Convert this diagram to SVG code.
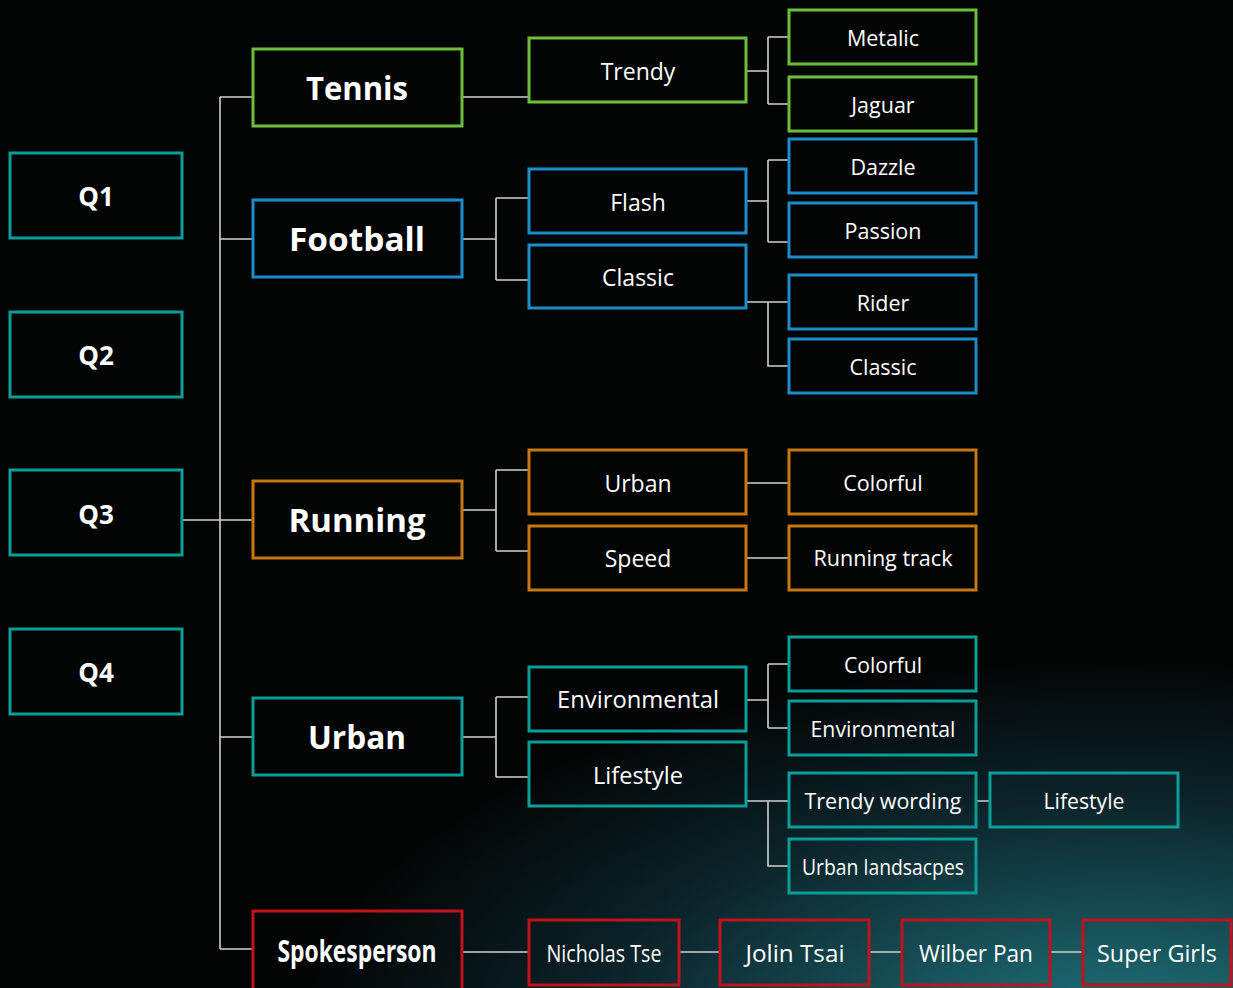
<svg xmlns="http://www.w3.org/2000/svg" width="1233" height="988" viewBox="0 0 1233 988">
<defs>
<radialGradient id="bg" cx="0" cy="0" r="1" gradientUnits="userSpaceOnUse" gradientTransform="translate(1120 1040) scale(820 380)">
<stop offset="0" stop-color="#1f7880"/>
<stop offset="0.3" stop-color="#175058"/>
<stop offset="0.65" stop-color="#0b2228"/>
<stop offset="1" stop-color="#030505"/>
</radialGradient>
<style>
.b{fill:none;stroke-width:3}
.g{stroke:#6cbf3c}.bl{stroke:#1e8bcb}.o{stroke:#c87712}.t{stroke:#0b9e98}.r{stroke:#c0131d}
text{fill:#ffffff;font-family:"Open Sans","Noto Sans","DejaVu Sans",sans-serif;text-anchor:middle}
.q{font-size:26px;font-weight:700}
.l1{font-size:32px;font-weight:700}
.l2{font-size:23px}
.l3{font-size:21.5px}
.c{font-size:23px}
.cb{font-size:30px;font-weight:700}
#conn path{fill:none;stroke:#cfcfcf;stroke-width:1.6}
</style>
</defs>
<rect width="1233" height="988" fill="#030505"/>
<rect width="1233" height="988" fill="url(#bg)"/>

<g id="conn">
<path d="M220 97V949M220 97H253M220 239H253M182 520H253M220 737H253M220 949H253"/>
<path d="M462 97H529M746 71H768M768 37V104M768 37H789M768 104H789"/>
<path d="M462 239H496M496 198V280M496 198H529M496 280H529M746 201H768M768 160V242M768 160H789M768 242H789M746 302H789M768 302V366H789"/>
<path d="M462 510H496M496 470V551M496 470H529M496 551H529M746 483H789M746 558H789"/>
<path d="M462 737H496M496 697V777M496 697H529M496 777H529M746 700H768M768 664V728M768 664H789M768 728H789M746 801H789M768 801V866H789M976 801H990"/>
<path d="M462 952H529M679 952H720M869 952H902M1050 952H1083"/>
</g>

<g id="q1"><rect class="b t" x="10" y="153" width="172" height="85"/><text class="q" x="96" y="206">Q1</text></g>
<g id="q2"><rect class="b t" x="10" y="312" width="172" height="85"/><text class="q" x="96" y="365">Q2</text></g>
<g id="q3"><rect class="b t" x="10" y="470" width="172" height="85"/><text class="q" x="96" y="524">Q3</text></g>
<g id="q4"><rect class="b t" x="10" y="629" width="172" height="85"/><text class="q" x="96" y="682">Q4</text></g>

<g id="tennis"><rect class="b g" x="253" y="49" width="209" height="77"/><text class="l1" x="357" y="100" textLength="102" lengthAdjust="spacingAndGlyphs">Tennis</text></g>
<g id="football"><rect class="b bl" x="253" y="200" width="209" height="77"/><text class="l1" x="357" y="251" textLength="136" lengthAdjust="spacingAndGlyphs">Football</text></g>
<g id="running"><rect class="b o" x="253" y="481" width="209" height="77"/><text class="l1" x="357" y="532" textLength="137" lengthAdjust="spacingAndGlyphs">Running</text></g>
<g id="urban"><rect class="b t" x="253" y="698" width="209" height="77"/><text class="l1" x="357" y="749" textLength="98" lengthAdjust="spacingAndGlyphs">Urban</text></g>
<g id="spokesperson"><rect class="b r" x="253" y="911" width="209" height="80"/><text class="cb" x="357" y="962" textLength="159" lengthAdjust="spacingAndGlyphs">Spokesperson</text></g>

<g id="trendy"><rect class="b g" x="529" y="38" width="217" height="64"/><text class="l2" x="638" y="80">Trendy</text></g>
<g id="metalic"><rect class="b g" x="789" y="10" width="187" height="54"/><text class="l3" x="883" y="46">Metalic</text></g>
<g id="jaguar"><rect class="b g" x="789" y="77" width="187" height="54"/><text class="l3" x="883" y="113">Jaguar</text></g>

<g id="flash"><rect class="b bl" x="529" y="169" width="217" height="64"/><text class="l2" x="638" y="211">Flash</text></g>
<g id="classic"><rect class="b bl" x="529" y="245" width="217" height="63"/><text class="l2" x="638" y="286">Classic</text></g>
<g id="dazzle"><rect class="b bl" x="789" y="139" width="187" height="54"/><text class="l3" x="883" y="175">Dazzle</text></g>
<g id="passion"><rect class="b bl" x="789" y="203" width="187" height="54"/><text class="l3" x="883" y="239">Passion</text></g>
<g id="rider"><rect class="b bl" x="789" y="275" width="187" height="54"/><text class="l3" x="883" y="311">Rider</text></g>
<g id="classic2"><rect class="b bl" x="789" y="339" width="187" height="54"/><text class="l3" x="883" y="375">Classic</text></g>

<g id="urban2"><rect class="b o" x="529" y="450" width="217" height="64"/><text class="l2" x="638" y="492">Urban</text></g>
<g id="speed"><rect class="b o" x="529" y="526" width="217" height="64"/><text class="l2" x="638" y="567">Speed</text></g>
<g id="colorful"><rect class="b o" x="789" y="450" width="187" height="64"/><text class="l3" x="883" y="491">Colorful</text></g>
<g id="runningtrack"><rect class="b o" x="789" y="526" width="187" height="64"/><text class="l3" x="883" y="566" textLength="139" lengthAdjust="spacingAndGlyphs">Running track</text></g>

<g id="environmental"><rect class="b t" x="529" y="667" width="217" height="64"/><text class="l2" x="638" y="708" textLength="162" lengthAdjust="spacingAndGlyphs">Environmental</text></g>
<g id="lifestyle"><rect class="b t" x="529" y="742" width="217" height="64"/><text class="l2" x="638" y="784" textLength="90" lengthAdjust="spacingAndGlyphs">Lifestyle</text></g>
<g id="colorful2"><rect class="b t" x="789" y="637" width="187" height="54"/><text class="l3" x="883" y="673" textLength="78" lengthAdjust="spacingAndGlyphs">Colorful</text></g>
<g id="environmental2"><rect class="b t" x="789" y="701" width="187" height="54"/><text class="l3" x="883" y="737" textLength="145" lengthAdjust="spacingAndGlyphs">Environmental</text></g>
<g id="trendywording"><rect class="b t" x="789" y="773" width="187" height="54"/><text class="l3" x="883" y="809" textLength="157" lengthAdjust="spacingAndGlyphs">Trendy wording</text></g>
<g id="urbanlandscapes"><rect class="b t" x="789" y="839" width="187" height="54"/><text class="l3" x="883" y="875" textLength="162" lengthAdjust="spacingAndGlyphs">Urban landsacpes</text></g>
<g id="lifestyle2"><rect class="b t" x="990" y="773" width="188" height="54"/><text class="l3" x="1084" y="809" textLength="81" lengthAdjust="spacingAndGlyphs">Lifestyle</text></g>

<g id="nicholas"><rect class="b r" x="529" y="920" width="150" height="65"/><text class="c" x="604" y="962" textLength="115" lengthAdjust="spacingAndGlyphs">Nicholas Tse</text></g>
<g id="jolin"><rect class="b r" x="720" y="920" width="149" height="65"/><text class="c" x="795" y="962" textLength="99" lengthAdjust="spacingAndGlyphs">Jolin Tsai</text></g>
<g id="wilber"><rect class="b r" x="902" y="920" width="148" height="65"/><text class="c" x="976" y="962" textLength="114" lengthAdjust="spacingAndGlyphs">Wilber Pan</text></g>
<g id="supergirls"><rect class="b r" x="1083" y="920" width="148" height="65"/><text class="c" x="1157" y="962" textLength="120" lengthAdjust="spacingAndGlyphs">Super Girls</text></g>
</svg>
